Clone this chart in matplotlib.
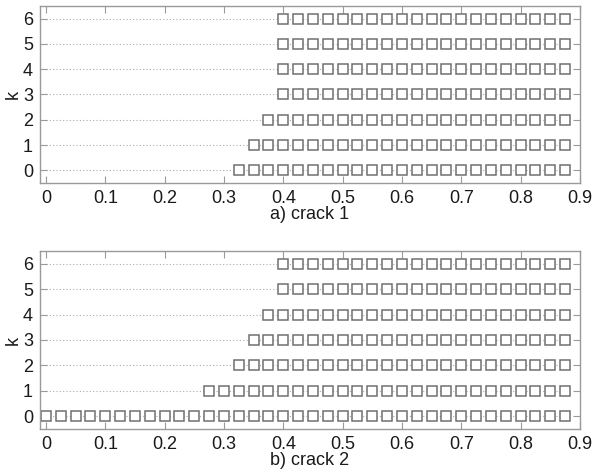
import numpy as np
import matplotlib
matplotlib.use("Agg")
import matplotlib.pyplot as plt

plt.rcParams['font.family'] = ['Liberation Sans', 'DejaVu Sans']

# positions along crack (0 to 0.875 step 0.025)
positions = [round(0.025 * i, 3) for i in range(36)]
k_levels = [0, 1, 2, 3, 4, 5, 6]
# first position with a detection for each k
start_crack1 = [0.325, 0.35, 0.375, 0.4, 0.4, 0.4, 0.4]
start_crack2 = [0.0, 0.275, 0.325, 0.35, 0.375, 0.4, 0.4]
captions = ["a) crack 1", "b) crack 2"]
xticks = [0, 0.1, 0.2, 0.3, 0.4, 0.5, 0.6, 0.7, 0.8, 0.9]
xticklabels = ["0", "0.1", "0.2", "0.3", "0.4", "0.5", "0.6", "0.7", "0.8", "0.9"]

W, H = 593, 472
fig = plt.figure(figsize=(W / 100, H / 100), dpi=100)

axes_px = [(40, 6, 580, 183), (40, 251, 580, 429)]
spine_c = '#9a9a9a'
text_c = '#1a1a1a'

for (l, t, r, b), starts, cap in zip(axes_px, [start_crack1, start_crack2], captions):
    ax = fig.add_axes([l / W, 1 - b / H, (r - l) / W, (b - t) / H])
    x = np.array(positions)
    for k, s in zip(k_levels, starts):
        ax.plot(x, np.full_like(x, k), linestyle=(0, (1, 2)), color='#aaaaaa', lw=0.8, zorder=1)
        m = x >= s - 1e-9
        ax.plot(x[m], np.full(m.sum(), k), linestyle='none', marker='s', markersize=7.2,
                markerfacecolor='white', markeredgecolor='#707070', markeredgewidth=1.1, zorder=2)
    ax.set_xlim(-0.01, 0.9)
    ax.set_ylim(-0.5, 6.5)
    ax.set_xticks(xticks)
    ax.set_xticklabels(xticklabels)
    ax.set_yticks(k_levels)
    ax.tick_params(direction='in', top=True, right=True, length=5, width=0.8,
                   color=spine_c, labelsize=13, labelcolor=text_c, pad=5)
    for sp in ax.spines.values():
        sp.set_color(spine_c)
        sp.set_linewidth(1.0)
    ax.set_ylabel('k', fontsize=13, color=text_c, labelpad=1)
    ax.set_xlabel(cap, fontsize=13, color=text_c, labelpad=-1)

fig.savefig('out.png', dpi=100)
